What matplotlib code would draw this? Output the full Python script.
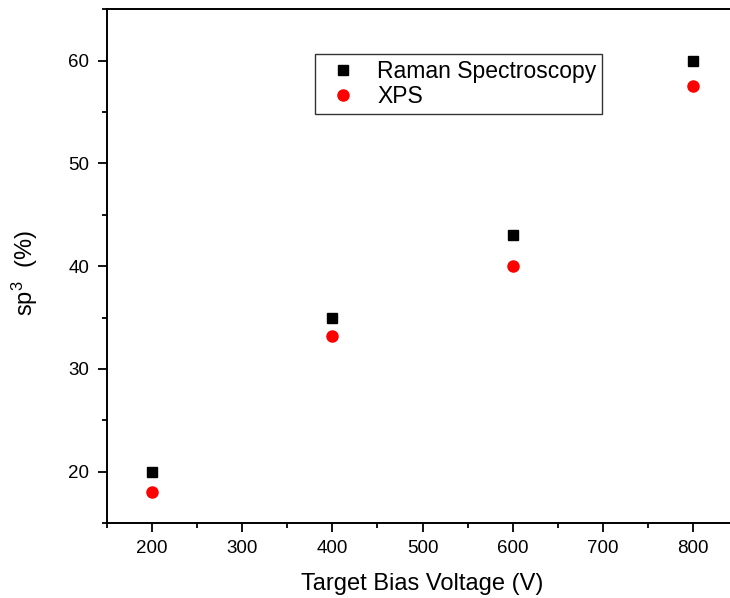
import matplotlib
matplotlib.use("Agg")
import matplotlib.pyplot as plt
from matplotlib.ticker import MultipleLocator

plt.rcParams['font.family'] = ['Liberation Sans', 'DejaVu Sans']
plt.rcParams['mathtext.fontset'] = 'custom'
plt.rcParams['mathtext.rm'] = 'Liberation Sans'
plt.rcParams['mathtext.it'] = 'Liberation Sans'
plt.rcParams['mathtext.bf'] = 'Liberation Sans'

voltage = [200, 400, 600, 800]
raman = [20, 35, 43, 60]
xps = [18, 33.2, 40, 57.5]

fig = plt.figure(figsize=(7.30, 5.98), dpi=100)
ax = fig.add_axes([106.7/730, 75/598, (738.5-106.7)/730, (523-9.3)/598])

ax.plot(voltage, raman, linestyle='none', marker='s', color='black', markersize=7, label='Raman Spectroscopy')
ax.plot(voltage, xps, linestyle='none', marker='o', color='red', markeredgecolor='red', markersize=8, label='XPS')

ax.set_xlim(150, 850)
ax.set_ylim(15, 65)
ax.xaxis.set_major_locator(MultipleLocator(100))
ax.xaxis.set_minor_locator(MultipleLocator(50))
ax.yaxis.set_major_locator(MultipleLocator(10))
ax.yaxis.set_minor_locator(MultipleLocator(5))
ax.tick_params(which='both', direction='out', width=1.3, labelsize=13.5)
ax.tick_params(which='major', length=6.5, pad=6)
ax.tick_params(which='minor', length=3.8)
for s in ax.spines.values():
    s.set_linewidth(1.4)

ax.set_xlabel('Target Bias Voltage (V)', fontsize=17, labelpad=11)
ax.set_ylabel('sp$^{3}$  (%)', fontsize=17)
ax.yaxis.set_label_coords((40 - 106.7)/631.8, 0.487)

leg = ax.legend(loc='upper left', bbox_to_anchor=((315-106.7)/631.8, 1 - (54-9.3)/513.7),
                fontsize=16.5, frameon=True, fancybox=False, borderpad=0.25,
                handletextpad=0.51, borderaxespad=0, labelspacing=0.1, handlelength=1.95)
leg.get_frame().set_edgecolor('black')
leg.get_frame().set_linewidth(1.0)

fig.savefig('out.png', dpi=100)
